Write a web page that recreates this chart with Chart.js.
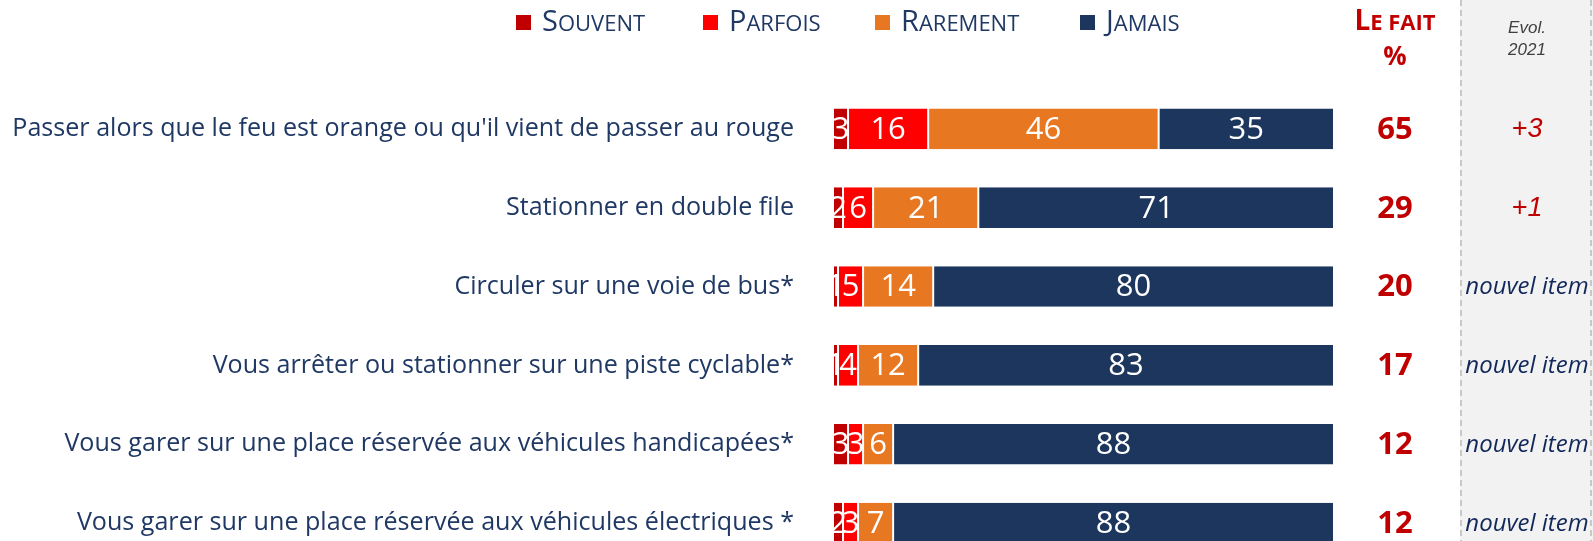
<!DOCTYPE html>
<html lang="fr">
<head>
<meta charset="utf-8">
<title>Comportements au volant</title>
<script src="https://cdn.jsdelivr.net/npm/chart.js@4/dist/chart.umd.min.js"></script>
<style>
  html, body { margin: 0; padding: 0; background: #fff; overflow: hidden; }
  #wrap { width: 1593px; height: 600px; }
</style>
</head>
<body>
<div id="wrap"><canvas id="chart" width="1593" height="600"></canvas></div>
<script>
// données
const categories = [
  "Passer alors que le feu est orange ou qu'il vient de passer au rouge",
  'Stationner en double file',
  'Circuler sur une voie de bus*',
  'Vous arrêter ou stationner sur une piste cyclable*',
  'Vous garer sur une place réservée aux véhicules handicapées*',
  'Vous garer sur une place réservée aux véhicules électriques *'
];
const seriesNames = ['Souvent', 'Parfois', 'Rarement', 'Jamais'];
const souvent = [3, 2, 1, 1, 3, 2];
const parfois = [16, 6, 5, 4, 3, 3];
const rarement = [46, 21, 14, 12, 6, 7];
const jamais = [35, 71, 80, 83, 88, 88];
const leFait = [65, 29, 20, 17, 12, 12];
const evol2021 = ['+3', '+1', 'nouvel item', 'nouvel item', 'nouvel item', 'nouvel item'];
const seriesColors = ['#C00000', '#FF0000', '#E87722', '#1C365E'];

const navy = '#1F3864';
const red = '#C00000';
const font = '"Open Sans", "Noto Sans", sans-serif';

// taille des libellés pour que le plus long tienne dans la place de l'original
const mctx = document.createElement('canvas').getContext('2d');
mctx.font = '100px ' + font;
const longest = Math.max(...categories.map(c => mctx.measureText(c).width));
const labelSize = Math.floor(100 * 782 / longest * 10) / 10;

// petites capitales : premiere lettre plus grande
function drawSmallCaps(ctx, text, x, y, big, small, weight) {
  ctx.textAlign = 'left';
  ctx.textBaseline = 'alphabetic';
  ctx.font = weight + ' ' + big + 'px ' + font;
  ctx.fillText(text[0].toUpperCase(), x, y);
  let w = ctx.measureText(text[0].toUpperCase()).width;
  ctx.font = weight + ' ' + small + 'px ' + font;
  ctx.fillText(text.slice(1).toUpperCase(), x + w, y);
  return w + ctx.measureText(text.slice(1).toUpperCase()).width;
}

const panelPlugin = {
  id: 'panel',
  beforeDraw(chart) {
    const ctx = chart.ctx;
    ctx.save();
    ctx.fillStyle = '#F2F2F2';
    ctx.fillRect(1460, 0, 133, chart.height);
    ctx.strokeStyle = '#C8C8C8';
    ctx.lineWidth = 2;
    ctx.setLineDash([6, 4]);
    [1461, 1591].forEach(x => {
      ctx.beginPath();
      ctx.moveTo(x, 0);
      ctx.lineTo(x, chart.height);
      ctx.stroke();
    });
    ctx.restore();
  }
};

const barLabelPlugin = {
  id: 'barLabels',
  afterDatasetsDraw(chart) {
    const ctx = chart.ctx;
    ctx.save();
    ctx.fillStyle = '#fff';
    ctx.font = '31px ' + font;
    ctx.textAlign = 'center';
    ctx.textBaseline = 'middle';
    chart.data.datasets.forEach((ds, i) => {
      chart.getDatasetMeta(i).data.forEach((bar, j) => {
        ctx.fillText(ds.data[j], (bar.x + bar.base) / 2, bar.y + 1);
      });
    });
    ctx.restore();
  }
};

const sidePlugin = {
  id: 'side',
  afterDraw(chart) {
    const ctx = chart.ctx;
    const yScale = chart.scales.y;
    ctx.save();

    // légende
    const squareX = [516, 703, 875, 1080];
    seriesNames.forEach((name, i) => {
      ctx.fillStyle = seriesColors[i];
      ctx.fillRect(squareX[i], 15, 15, 15);
      ctx.fillStyle = navy;
      drawSmallCaps(ctx, name, squareX[i] + 26, 31, 29, 22, 'normal');
    });

    // en-tête "Le fait %"
    ctx.fillStyle = red;
    ctx.font = 'bold 28px ' + font;
    let w = ctx.measureText('L').width;
    ctx.font = 'bold 22px ' + font;
    w += ctx.measureText('E FAIT').width;
    drawSmallCaps(ctx, 'Le fait', 1395 - w / 2, 30, 28, 22, 'bold');
    ctx.textAlign = 'center';
    ctx.textBaseline = 'middle';
    ctx.font = 'bold 26px ' + font;
    ctx.fillText('%', 1395, 58);

    // en-tête Evol.
    ctx.fillStyle = '#404040';
    ctx.font = 'italic 17px "Liberation Sans", Arial, sans-serif';
    ctx.fillText('Evol.', 1527, 28);
    ctx.fillText('2021', 1527, 50);

    categories.forEach((c, i) => {
      const y = yScale.getPixelForValue(i);
      ctx.fillStyle = red;
      ctx.font = 'bold 31px ' + font;
      ctx.fillText(leFait[i], 1395, y + 1);
      const ev = evol2021[i];
      if (/^[+-]/.test(ev)) {
        ctx.fillStyle = red;
        ctx.font = 'italic 27px "Liberation Sans", Arial, sans-serif';
      } else {
        ctx.fillStyle = '#12285A';
        ctx.font = 'italic 24px ' + font;
      }
      ctx.fillText(ev, 1527, y + 1);
    });
    ctx.restore();
  }
};

const seriesData = [souvent, parfois, rarement, jamais];

new Chart(document.getElementById('chart'), {
  type: 'bar',
  data: {
    labels: categories,
    datasets: seriesNames.map((name, i) => ({
      label: name,
      data: seriesData[i],
      backgroundColor: seriesColors[i],
      borderColor: '#fff',
      borderWidth: { left: 1, right: 1, top: 0, bottom: 0 },
      borderSkipped: false,
      barPercentage: 1,
      categoryPercentage: 0.516
    }))
  },
  options: {
    indexAxis: 'y',
    responsive: false,
    animation: false,
    layout: { padding: { left: 0, right: 259, top: 89.4, bottom: 37.5 } },
    scales: {
      x: { stacked: true, min: 0, max: 100, display: false },
      y: {
        stacked: true,
        grid: { display: false, drawTicks: false },
        border: { display: false },
        ticks: { color: navy, font: { family: font, size: labelSize }, padding: 39 },
        afterFit(scale) {
          scale.width = 833;
          // pas de marge verticale ajoutée par le padding des libellés
          scale.paddingTop = 0;
          scale.paddingBottom = 0;
        }
      }
    },
    plugins: { legend: { display: false }, tooltip: { enabled: false } }
  },
  plugins: [panelPlugin, barLabelPlugin, sidePlugin]
});
</script>
</body>
</html>
